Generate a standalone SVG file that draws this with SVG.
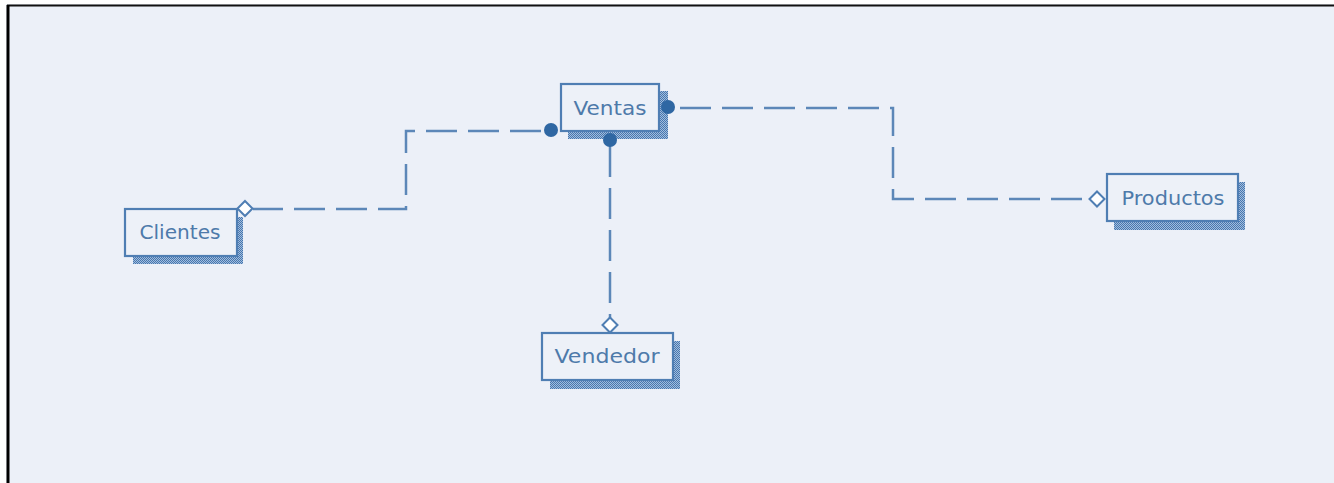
<svg xmlns="http://www.w3.org/2000/svg" width="1334" height="483" viewBox="0 0 1334 483">
<style>
.box{fill:#edf1f8;stroke:#4f7eb3;stroke-width:2.2}
.shadow{fill:url(#dots)}
.lbl{font-family:"DejaVu Sans",Verdana,sans-serif;font-size:20px;fill:#4e7aaa;text-anchor:middle}
.conn{fill:none;stroke:#5c87b8;stroke-width:2.5;stroke-dasharray:31 11}
.solid{fill:none;stroke:#5c87b8;stroke-width:2.5}
.dot{fill:#2f67a3}
.dia{fill:#ffffff;stroke:#4f7eb3;stroke-width:2}
</style>
<defs>
<pattern id="dots" width="2" height="2" patternUnits="userSpaceOnUse">
<rect width="2" height="2" fill="#a3bddc"/>
<rect width="1" height="1" fill="#4677b0"/>
<rect x="1" y="1" width="1" height="1" fill="#4677b0"/>
</pattern>
</defs>
<rect x="0" y="0" width="1334" height="483" fill="#ecf0f8"/>
<rect x="0" y="0" width="1334" height="4" fill="#ffffff"/>
<rect x="0" y="0" width="6" height="483" fill="#ffffff"/>
<line x1="7" y1="5.5" x2="1334" y2="5.5" stroke="#111" stroke-width="2"/>
<line x1="8" y1="5" x2="8" y2="483" stroke="#000" stroke-width="3"/>

<g id="connectors">
<path class="solid" d="M253 209 H283"/>
<path class="conn" d="M294 209 H406 V131 H545"/>
<path class="conn" d="M610 146 V318"/>
<path class="conn" d="M680 108 H893 V199 H1089"/>
</g>

<g id="ventas">
<rect class="shadow" x="568" y="91" width="100" height="48"/>
<rect class="box" x="561" y="84" width="98" height="47"/>
<text class="lbl" x="610" y="115" textLength="73" lengthAdjust="spacingAndGlyphs">Ventas</text>
<circle class="dot" cx="551" cy="130" r="7"/>
<circle class="dot" cx="610" cy="140" r="7"/>
<circle class="dot" cx="668" cy="107" r="7"/>
</g>

<g id="clientes">
<rect class="shadow" x="133" y="217" width="110" height="47"/>
<rect class="box" x="125" y="209" width="112" height="47"/>
<text class="lbl" x="180" y="239" textLength="81" lengthAdjust="spacingAndGlyphs">Clientes</text>
<polygon class="dia" points="245,201 252.5,208.5 245,216 237.5,208.5"/>
</g>

<g id="productos">
<rect class="shadow" x="1114" y="182" width="131" height="48"/>
<rect class="box" x="1107" y="174" width="131" height="47"/>
<text class="lbl" x="1173" y="205" textLength="103" lengthAdjust="spacingAndGlyphs">Productos</text>
<polygon class="dia" points="1097,191.5 1104.5,199 1097,206.5 1089.5,199"/>
</g>

<g id="vendedor">
<rect class="shadow" x="550" y="341" width="130" height="48"/>
<rect class="box" x="542" y="333" width="131" height="47"/>
<text class="lbl" x="607" y="363" textLength="105" lengthAdjust="spacingAndGlyphs">Vendedor</text>
<polygon class="dia" points="610,317.5 617.5,325 610,332.5 602.5,325"/>
</g>
</svg>
